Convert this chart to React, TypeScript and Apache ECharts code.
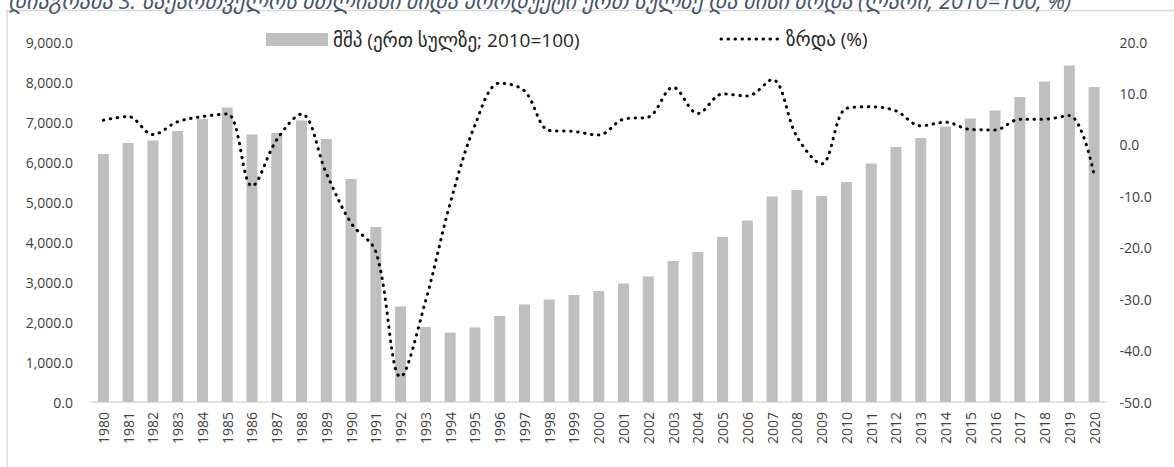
import React, { useEffect, useRef } from "react";
import * as echarts from "echarts";

const years = [
  "1980", "1981", "1982", "1983", "1984", "1985", "1986", "1987", "1988", "1989",
  "1990", "1991", "1992", "1993", "1994", "1995", "1996", "1997", "1998", "1999",
  "2000", "2001", "2002", "2003", "2004", "2005", "2006", "2007", "2008", "2009",
  "2010", "2011", "2012", "2013", "2014", "2015", "2016", "2017", "2018", "2019", "2020",
];

const gdpPerCapita = [
  6200, 6475, 6535, 6775, 7075, 7365, 6690, 6725, 7035, 6575,
  5575, 4375, 2385, 1875, 1735, 1865, 2150, 2435, 2560, 2675,
  2775, 2965, 3135, 3525, 3750, 4125, 4535, 5135, 5300, 5150,
  5500, 5960, 6375, 6600, 6885, 7085, 7285, 7625, 8010, 8410, 7875,
];

const growth = [
  4.8, 5.5, 2.0, 4.5, 5.5, 6.0, -8.0, 1.0, 6.0, -5.5,
  -15.2, -20.8, -45.1, -30.5, -11.4, 3.8, 12.0, 10.5, 2.8, 2.6,
  1.9, 5.0, 5.4, 11.2, 6.1, 9.9, 9.5, 12.7, 1.6, -3.7,
  7.1, 7.4, 6.6, 3.7, 4.4, 3.0, 2.9, 5.0, 5.0, 5.7, -5.8,
];

const barName = "მშპ (ერთ სულზე; 2010=100)";
const lineName = "ზრდა (%)";
const titleText =
  "დიაგრამა 3. საქართველოს მთლიანი შიდა პროდუქტი ერთ სულზე და მისი ზრდა (ლარი, 2010=100, %)";

const FONT = "Open Sans, 'DejaVu Sans', sans-serif";
const DOTS = [0.5, 6.5];

export default function App() {
  const ref = useRef<HTMLDivElement>(null);

  useEffect(() => {
    if (!ref.current) return;
    const chart = echarts.init(ref.current, undefined, { renderer: "svg" });
    chart.setOption({
      animation: false,
      backgroundColor: "#ffffff",
      textStyle: { fontFamily: FONT },
      graphic: [
        {
          type: "rect",
          shape: { x: 7, y: 10.5, width: 1300, height: 600 },
          style: { fill: "none", stroke: "#d9d9d9", lineWidth: 1.5 },
          silent: true,
        },
        {
          type: "text",
          x: 8,
          y: 0,
          style: {
            text: titleText,
            font: "italic 22px " + FONT,
            fill: "#44546A",
            verticalAlign: "middle",
          },
          silent: true,
        },
        {
          type: "line",
          shape: { x1: 721, y1: 39, x2: 781, y2: 39 },
          style: { stroke: "#000000", lineWidth: 3, lineDash: DOTS, lineCap: "round" },
          silent: true,
        },
        {
          type: "text",
          x: 786,
          y: 39,
          style: {
            text: lineName,
            font: "19px " + FONT,
            fill: "#262626",
            verticalAlign: "middle",
          },
          silent: true,
        },
      ],
      legend: {
        left: 261,
        top: 25,
        itemWidth: 62,
        itemHeight: 13,
        itemGap: 6,
        textStyle: { fontSize: 19, color: "#262626", fontFamily: FONT },
        data: [{ name: barName, icon: "rect" }],
      },
      grid: { left: 91, right: 67.5, top: 42, bottom: 65 },
      xAxis: {
        type: "category",
        data: years,
        axisLine: { lineStyle: { color: "#d9d9d9", width: 1.5 } },
        axisTick: { show: false },
        axisLabel: {
          rotate: 90,
          margin: 10,
          fontSize: 14,
          color: "#404040",
          interval: 0,
        },
      },
      yAxis: [
        {
          type: "value",
          min: 0,
          max: 9000,
          interval: 1000,
          splitLine: { show: false },
          axisLine: { show: false },
          axisTick: { show: false },
          axisLabel: {
            margin: 18,
            fontSize: 14,
            color: "#404040",
            formatter: (v: number) =>
              v.toLocaleString("en-US", { minimumFractionDigits: 1, maximumFractionDigits: 1 }),
          },
        },
        {
          type: "value",
          min: -50,
          max: 20,
          interval: 10,
          position: "right",
          splitLine: { show: false },
          axisLine: { show: false },
          axisTick: { show: false },
          axisLabel: {
            margin: 13,
            fontSize: 14,
            color: "#404040",
            formatter: (v: number) => v.toFixed(1),
          },
        },
      ],
      series: [
        {
          name: barName,
          type: "bar",
          data: gdpPerCapita,
          barWidth: 11,
          itemStyle: { color: "#bfbfbf" },
          yAxisIndex: 0,
        },
        {
          name: lineName,
          type: "line",
          data: growth,
          yAxisIndex: 1,
          smooth: 0.35,
          symbol: "none",
          showSymbol: false,
          itemStyle: { color: "#000000" },
          lineStyle: {
            color: "#000000",
            width: 3,
            type: DOTS,
            cap: "round",
          },
        },
      ],
    });
    return () => chart.dispose();
  }, []);

  return (
    <div
      ref={ref}
      style={{ position: "fixed", left: 0, top: 0, width: 1174, height: 467 }}
    />
  );
}
